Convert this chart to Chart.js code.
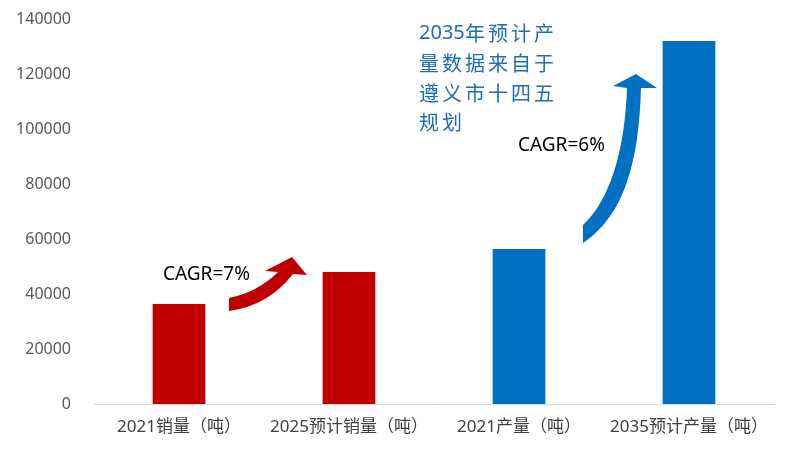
<!DOCTYPE html>
<html>
<head>
<meta charset="utf-8">
<script src="https://cdn.jsdelivr.net/npm/chart.js@4.4.1/dist/chart.umd.min.js"></script>
<style>
    html, body { margin: 0; padding: 0; background: #ffffff; }
    #wrap { width: 786px; height: 449px; }
</style>
</head>
<body>
<div id="wrap"><canvas id="cagrChart" width="786" height="449"></canvas></div>
<script>
// 数据
const categories = ['2021销量（吨）', '2025预计销量（吨）', '2021产量（吨）', '2035预计产量（吨）'];
const values = [36400, 48000, 56400, 132000];
const barColors = ['#C00000', '#C00000', '#0070C0', '#0070C0'];
const yTicks = [0, 20000, 40000, 60000, 80000, 100000, 120000, 140000];
const noteLines = ['2035年预计产', '量数据来自于', '遵义市十四五', '规划'];
const cagrSales = 'CAGR=7%';
const cagrOutput = 'CAGR=6%';

const latin = "'Noto Sans', 'Noto Sans CJK SC', sans-serif";
const cjk = "'Noto Sans CJK SC', 'Noto Sans', sans-serif";

// 箭头与注释
const notesPlugin = {
    id: 'notes',
    afterDatasetsDraw(chart) {
        const ctx = chart.ctx;
        ctx.save();

        // 红色箭头
        ctx.fillStyle = '#C00000';
        ctx.beginPath();
        ctx.moveTo(229, 298);
        ctx.quadraticCurveTo(258, 292, 278, 272);
        ctx.lineTo(265, 271);
        ctx.lineTo(292, 257);
        ctx.lineTo(307, 275);
        ctx.lineTo(293, 274);
        ctx.quadraticCurveTo(268, 306, 229, 311);
        ctx.closePath();
        ctx.fill();

        // 蓝色箭头
        ctx.fillStyle = '#0070C0';
        ctx.beginPath();
        ctx.moveTo(583, 225);
        ctx.bezierCurveTo(610, 200, 625, 150, 627, 88);
        ctx.lineTo(613, 86);
        ctx.lineTo(636, 74);
        ctx.lineTo(657, 88);
        ctx.lineTo(641, 88);
        ctx.bezierCurveTo(639, 160, 625, 215, 583, 243);
        ctx.closePath();
        ctx.fill();

        // CAGR
        ctx.fillStyle = '#000000';
        ctx.font = '19px ' + latin;
        ctx.textBaseline = 'middle';
        ctx.textAlign = 'left';
        ctx.fillText(cagrSales, 163, 275);
        ctx.fillText(cagrOutput, 518, 146);

        // 说明文字
        ctx.fillStyle = '#1F6DB5';
        const lineY = [33, 63, 93, 122];
        noteLines.forEach((line, i) => {
            let x = 419;
            const m = line.match(/^\d+/);
            let rest = line;
            if (m) {
                ctx.font = '20px ' + latin;
                ctx.fillText(m[0], x, lineY[i]);
                x = 465;
                rest = line.slice(m[0].length);
            }
            ctx.font = '20px ' + cjk;
            for (const ch of rest) {
                ctx.fillText(ch, x, lineY[i]);
                x += 23;
            }
        });

        ctx.restore();
    }
};

document.addEventListener('DOMContentLoaded', () => {
    const ctx = document.getElementById('cagrChart');

    new Chart(ctx, {
        type: 'bar',
        data: {
            labels: categories,
            datasets: [{
                data: values,
                backgroundColor: barColors,
                borderWidth: 0,
                barPercentage: 0.31,
                categoryPercentage: 1
            }]
        },
        options: {
            responsive: false,
            animation: false,
            layout: {
                padding: { top: 19, right: 12, bottom: 0, left: 0 }
            },
            plugins: {
                legend: { display: false },
                tooltip: { enabled: false }
            },
            scales: {
                y: {
                    min: 0,
                    max: 140000,
                    afterFit: (scale) => { scale.width = 94; },
                    afterBuildTicks: (scale) => {
                        scale.ticks = yTicks.map(v => ({ value: v }));
                    },
                    ticks: {
                        color: '#595959',
                        padding: 0,
                        font: { family: latin, size: 16 },
                        callback: (v) => String(v)
                    },
                    grid: { display: false, drawTicks: true, tickLength: 23 },
                    border: { display: false }
                },
                x: {
                    afterFit: (scale) => { scale.height = 45; },
                    ticks: {
                        color: '#404040',
                        padding: 13,
                        maxRotation: 0,
                        autoSkip: false,
                        font: { family: latin, size: 17 }
                    },
                    grid: { display: false, drawTicks: false },
                    border: { display: true, color: '#D9D9D9', width: 1 }
                }
            }
        },
        plugins: [notesPlugin]
    });
});
</script>
</body>
</html>
